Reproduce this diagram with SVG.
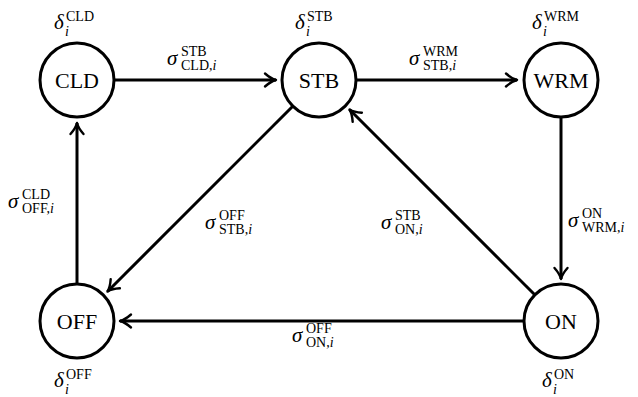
<svg xmlns="http://www.w3.org/2000/svg" width="638" height="397" viewBox="0 0 638 397">
  <style>
    .node circle { fill: #fff; stroke: #000; stroke-width: 3; }
    .name { font-family: "Liberation Serif", "DejaVu Serif", serif; font-size: 22px; text-anchor: middle; fill: #000; }
    .edge { stroke: #000; stroke-width: 3; fill: none; marker-end: url(#arrow); }
    .m { font-family: "Liberation Serif", "DejaVu Serif", serif; font-style: italic; font-size: 21px; fill: #000; text-anchor: start; }
    .r { font-style: normal; font-size: 14px; }
    .ri { font-style: italic; font-size: 14px; }
  </style>
  <defs>
    <marker id="arrow" markerUnits="userSpaceOnUse" markerWidth="20" markerHeight="20" viewBox="-14 -10 16 20" refX="0" refY="0" orient="auto">
      <path d="M-11,-6.5 Q-5,-1.2 0,0 Q-5,1.2 -11,6.5" fill="none" stroke="#000" stroke-width="2.4" stroke-linecap="round" stroke-linejoin="round"/>
    </marker>
  </defs>

  <!-- transitions -->
  <g id="edges">
    <line class="edge" x1="115" y1="80" x2="276" y2="80"/>
    <line class="edge" x1="357" y1="80" x2="517" y2="80"/>
    <line class="edge" x1="561" y1="118" x2="561" y2="279"/>
    <line class="edge" x1="523" y1="321" x2="120" y2="321"/>
    <line class="edge" x1="77" y1="283" x2="77" y2="123"/>
    <line class="edge" x1="292.5" y1="106.5" x2="107.5" y2="291.5"/>
    <line class="edge" x1="534.5" y1="294.5" x2="349.5" y2="109.5"/>
  </g>

  <!-- transition labels -->
  <g id="edge-labels">
    <text class="m" x="167" y="65">σ<tspan class="r" x="181" y="56">STB</tspan><tspan class="r" x="181" y="70">CLD,</tspan><tspan class="ri">i</tspan></text>
    <text class="m" x="409" y="65">σ<tspan class="r" x="423" y="56">WRM</tspan><tspan class="r" x="423" y="70">STB,</tspan><tspan class="ri">i</tspan></text>
    <text class="m" x="8" y="208">σ<tspan class="r" x="22" y="199">CLD</tspan><tspan class="r" x="22" y="213">OFF,</tspan><tspan class="ri">i</tspan></text>
    <text class="m" x="205" y="229">σ<tspan class="r" x="219" y="220">OFF</tspan><tspan class="r" x="219" y="234">STB,</tspan><tspan class="ri">i</tspan></text>
    <text class="m" x="381" y="229">σ<tspan class="r" x="395" y="220">STB</tspan><tspan class="r" x="395" y="234">ON,</tspan><tspan class="ri">i</tspan></text>
    <text class="m" x="568" y="227">σ<tspan class="r" x="582" y="218">ON</tspan><tspan class="r" x="582" y="232">WRM,</tspan><tspan class="ri">i</tspan></text>
    <text class="m" x="292" y="342">σ<tspan class="r" x="306" y="333">OFF</tspan><tspan class="r" x="306" y="347">ON,</tspan><tspan class="ri">i</tspan></text>
  </g>

  <!-- states -->
  <g id="node-cld" class="node">
    <circle cx="77" cy="80" r="37"/>
    <text class="name" x="77" y="88">CLD</text>
    <text class="m" x="54" y="29">δ<tspan class="r" x="66" y="21">CLD</tspan><tspan class="ri" x="65" y="36">i</tspan></text>
  </g>
  <g id="node-stb" class="node">
    <circle cx="319" cy="80" r="37"/>
    <text class="name" x="319" y="88">STB</text>
    <text class="m" x="295" y="29">δ<tspan class="r" x="307" y="21">STB</tspan><tspan class="ri" x="306" y="36">i</tspan></text>
  </g>
  <g id="node-wrm" class="node">
    <circle cx="561" cy="80" r="37"/>
    <text class="name" x="561" y="88">WRM</text>
    <text class="m" x="532" y="29">δ<tspan class="r" x="544" y="21">WRM</tspan><tspan class="ri" x="543" y="36">i</tspan></text>
  </g>
  <g id="node-off" class="node">
    <circle cx="77" cy="321" r="37"/>
    <text class="name" x="77" y="329">OFF</text>
    <text class="m" x="54" y="387">δ<tspan class="r" x="66" y="379">OFF</tspan><tspan class="ri" x="65" y="394">i</tspan></text>
  </g>
  <g id="node-on" class="node">
    <circle cx="561" cy="321" r="37"/>
    <text class="name" x="561" y="329">ON</text>
    <text class="m" x="542" y="387">δ<tspan class="r" x="554" y="379">ON</tspan><tspan class="ri" x="553" y="394">i</tspan></text>
  </g>
</svg>
